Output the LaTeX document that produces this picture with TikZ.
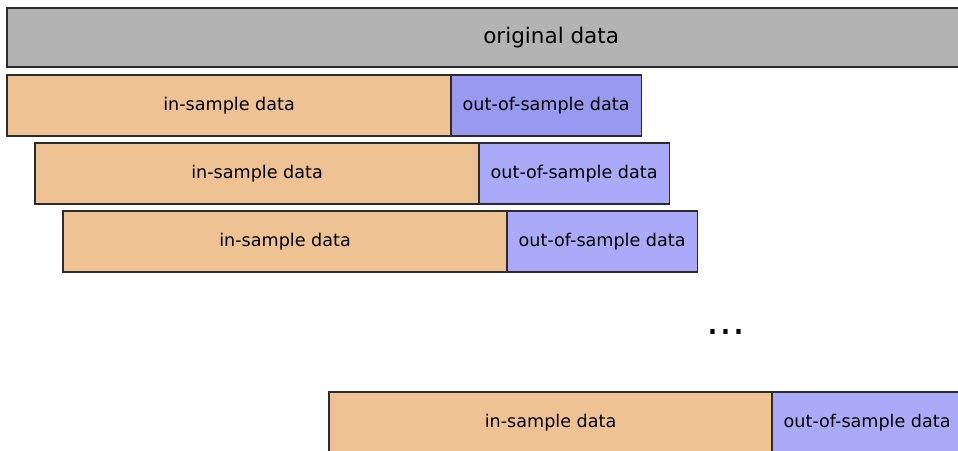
\documentclass[tikz,border=0pt]{standalone}
\usepackage{xcolor}
\usepackage{fontspec}
\setmainfont{DejaVu Sans}
\usetikzlibrary{positioning}
\definecolor{datagray}{HTML}{B3B3B3}
\definecolor{insample}{HTML}{EFC294}
\definecolor{outdark}{HTML}{9999F0}
\definecolor{outlight}{HTML}{AAAAF8}
\definecolor{edgegray}{HTML}{2B2B2B}

\tikzset{
  block/.style={draw=edgegray, line width=0.9pt, outer sep=0pt, inner sep=0pt,
                minimum height=1.525cm, font=\fontsize{12.5}{14}\selectfont},
  inbox/.style={block, fill=insample, minimum width=11.1cm, anchor=north west},
  outbox/.style={block, fill=outlight, minimum width=4.75cm},
}

\begin{document}
\begin{tikzpicture}[x=0.025cm, y=-0.025cm]
    \clip (0,0) rectangle (958,451);
    \fill[white] (0,0) rectangle (958,451);

    \node[block, fill=datagray, anchor=north west, minimum width=27.2cm,
          minimum height=1.475cm, font=\fontsize{15.3}{18}\selectfont] (orig) at (7,8) {original data};

    \node[inbox] (in1) at (7,75) {in-sample data};
    \node[outbox, fill=outdark, right=0pt of in1] (out1) {out-of-sample data};

    \node[inbox] (in2) at (35,143) {in-sample data};
    \node[outbox, right=0pt of in2] (out2) {out-of-sample data};

    \node[inbox] (in3) at (63,211) {in-sample data};
    \node[outbox, right=0pt of in3] (out3) {out-of-sample data};

    \node[anchor=base, font=\fontsize{29}{30}\selectfont] (dots) at (726,334) {...};

    \node[inbox, minimum width=11.075cm] (inN) at (329,392) {in-sample data};
    \node[outbox, right=0pt of inN] (outN) {out-of-sample data};
  \end{tikzpicture}
\end{document}
